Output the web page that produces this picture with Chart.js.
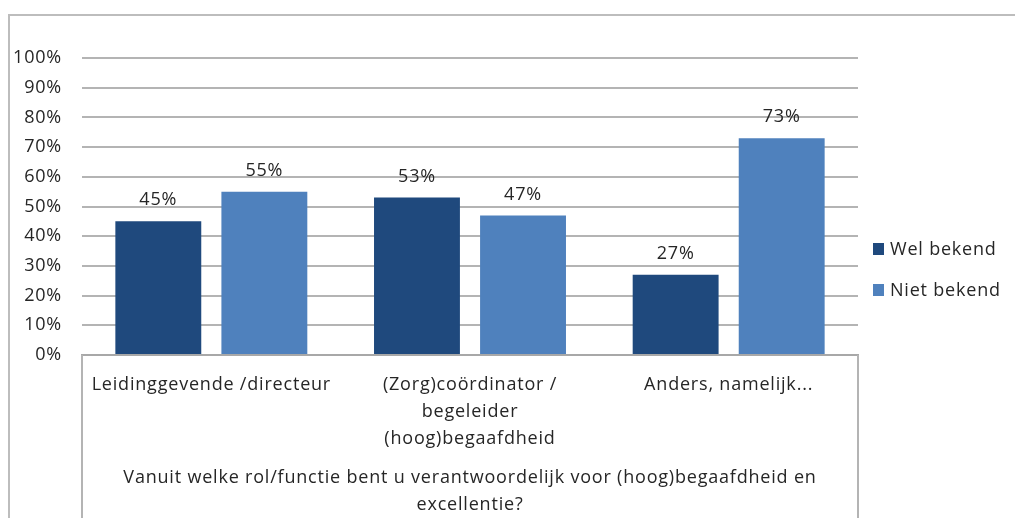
<!DOCTYPE html>
<html>
<head>
<meta charset="utf-8">
<script src="https://cdn.jsdelivr.net/npm/chart.js@4/dist/chart.umd.min.js"></script>
<style>
html,body{margin:0;padding:0;background:#fff;}
#wrap{position:relative;width:1015px;height:518px;}
</style>
</head>
<body>
<div id="wrap"><canvas id="c" width="1015" height="518"></canvas></div>
<script>
const categories = [
  ["Leidinggevende /directeur"],
  ["(Zorg)coördinator /", "begeleider", "(hoog)begaafdheid"],
  ["Anders, namelijk..."]
];
const seriesNames = ["Wel bekend", "Niet bekend"];
const welBekend = [45, 53, 27];
const nietBekend = [55, 47, 73];
const seriesColors = ["#1F497D", "#4F81BD"];
const yTicks = [0, 10, 20, 30, 40, 50, 60, 70, 80, 90, 100];
const axisTitle = ["Vanuit welke rol/functie bent u verantwoordelijk voor (hoog)begaafdheid en", "excellentie?"];

const FONT = "'Open Sans', sans-serif";
const TXT = "#262626";
const SPACING = '0.8px';

const decor = {
  id: 'decor',
  beforeDraw(chart) {
    const ctx = chart.ctx;
    ctx.letterSpacing = SPACING;
    ctx.save();
    ctx.fillStyle = '#fff';
    ctx.fillRect(0, 0, chart.width, chart.height);
    ctx.strokeStyle = '#bdbdbd';
    ctx.lineWidth = 2;
    ctx.beginPath();
    ctx.moveTo(9, chart.height);
    ctx.lineTo(9, 15);
    ctx.lineTo(chart.width, 15);
    ctx.stroke();
    ctx.restore();
  },
  afterDraw(chart) {
    const ctx = chart.ctx;
    const a = chart.chartArea;
    ctx.save();
    ctx.letterSpacing = SPACING;
    ctx.strokeStyle = '#b4b4b4';
    ctx.lineWidth = 2;
    ctx.beginPath();
    ctx.moveTo(a.left, a.bottom);
    ctx.lineTo(a.left, chart.height);
    ctx.moveTo(a.right, a.bottom);
    ctx.lineTo(a.right, chart.height);
    ctx.stroke();
    ctx.fillStyle = TXT;
    ctx.font = "18px " + FONT;
    ctx.textAlign = 'center';
    ctx.textBaseline = 'middle';
    chart.data.datasets.forEach((ds, i) => {
      chart.getDatasetMeta(i).data.forEach((bar, j) => {
        ctx.fillText(ds.data[j] + '%', bar.x, bar.y - 21);
      });
    });
    const cx = (a.left + a.right) / 2;
    axisTitle.forEach((line, k) => ctx.fillText(line, cx, 478 + k * 27));
    ctx.textAlign = 'left';
    chart.data.datasets.forEach((ds, i) => {
      const y = 249 + i * 41;
      ctx.fillStyle = ds.backgroundColor;
      ctx.fillRect(873, y - 6, 11, 12);
      ctx.fillStyle = TXT;
      ctx.fillText(ds.label, 890, y + 1);
    });
    ctx.restore();
  }
};

new Chart(document.getElementById('c'), {
  type: 'bar',
  data: {
    labels: categories,
    datasets: [
      { label: seriesNames[0], data: welBekend, backgroundColor: seriesColors[0] },
      { label: seriesNames[1], data: nietBekend, backgroundColor: seriesColors[1] }
    ]
  },
  options: {
    responsive: false,
    animation: false,
    events: [],
    layout: { padding: { top: 58, right: 157, left: 0, bottom: 0 } },
    datasets: { bar: { categoryPercentage: 0.82, barPercentage: 0.81 } },
    plugins: { legend: { display: false }, tooltip: { enabled: false } },
    scales: {
      x: {
        grid: { display: false, drawTicks: false },
        border: { display: true, color: '#a8a8a8', width: 2 },
        ticks: {
          color: TXT, font: { family: FONT, size: 18, lineHeight: 1.5 },
          maxRotation: 0, minRotation: 0, autoSkip: false, padding: 16
        },
        afterFit(s) { s.height = 163; }
      },
      y: {
        min: 0, max: 100,
        afterBuildTicks(s) { s.ticks = yTicks.map(v => ({ value: v })); },
        grid: { color: '#b4b4b4', lineWidth: 2, drawTicks: false },
        border: { display: false },
        ticks: {
          color: TXT, font: { family: FONT, size: 18 }, padding: 20,
          callback: v => v + '%'
        },
        afterFit(s) { s.width = 82; }
      }
    }
  },
  plugins: [decor]
});
</script>
</body>
</html>
